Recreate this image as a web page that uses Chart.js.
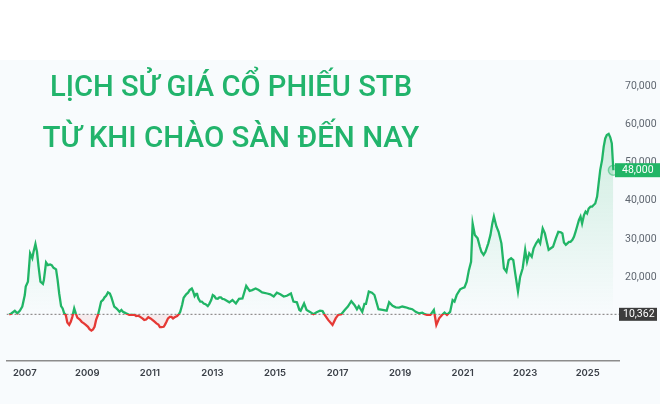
<!DOCTYPE html>
<html>
<head>
<meta charset="utf-8">
<script src="https://cdn.jsdelivr.net/npm/chart.js@4.4.0/dist/chart.umd.min.js"></script>
<style>
  html, body { margin: 0; padding: 0; }
  body { width: 660px; height: 404px; overflow: hidden;
         background: linear-gradient(#ffffff 0px, #ffffff 60px, #f8fbfd 60px); }
  #wrap { position: relative; width: 660px; height: 404px; }
  canvas { position: absolute; left: 0; top: 0; }
  .title { position: absolute; left: 0; width: 462px; text-align: center;
           font-family: Roboto, "Noto Sans", sans-serif; font-weight: 500; font-size: 29px;
           line-height: 51px; color: #22b46c; white-space: nowrap; }
  .title span { display: inline-block; transform-origin: center center; }
</style>
</head>
<body>
<div id="wrap">
  <canvas id="c" width="660" height="404"></canvas>
  <div class="title" style="top:61px"><span id="t1">LỊCH SỬ GIÁ CỔ PHIẾU STB</span></div>
  <div class="title" style="top:112px"><span id="t2">TỪ KHI CHÀO SÀN ĐẾN NAY</span></div>
</div>
<script>
// ---- data (decimal year, price in VND) ----
const years = [
 2006.50,2006.57,2006.68,2006.76,2006.84,2006.92,2007.00,2007.03,2007.10,2007.17,2007.24,2007.28,2007.34,2007.39,2007.44,2007.50,2007.58,2007.61,2007.68,2007.74,2007.81,2007.86,2007.92,2008.00,2008.05,2008.10,2008.16,2008.21,2008.26,2008.31,2008.36,2008.42,2008.47,2008.52,2008.58,2008.63,2008.68,2008.76,2008.82,2008.89,2008.95,2009.02,2009.07,2009.13,2009.18,2009.23,2009.28,2009.34,2009.39,2009.44,2009.50,2009.55,2009.60,2009.66,2009.72,2009.77,2009.81,2009.86,2009.93,2009.98,2010.03,2010.09,2010.14,2010.19,2010.24,2010.30,2010.34,2010.42,2010.51,2010.56,2010.63,2010.69,2010.76,2010.82,2010.88,2010.95,2011.02,2011.08,2011.14,2011.21,2011.27,2011.32,2011.37,2011.44,2011.48,2011.53,2011.58,2011.64,2011.69,2011.74,2011.79,2011.87,2011.93,2011.97,2012.03,2012.08,2012.16,2012.22,2012.27,2012.34,2012.38,2012.43,2012.48,2012.51,2012.55,2012.61,2012.66,2012.72,2012.78,2012.85,2012.90,2012.96,2013.01,2013.06,2013.11,2013.17,2013.22,2013.27,2013.32,2013.38,2013.54,2013.64,2013.75,2013.85,2013.96,2014.08,2014.19,2014.27,2014.38,2014.48,2014.59,2014.75,2014.85,2014.96,2015.06,2015.17,2015.28,2015.38,2015.51,2015.59,2015.70,2015.78,2015.82,2015.93,2016.01,2016.12,2016.23,2016.33,2016.44,2016.52,2016.59,2016.70,2016.84,2016.94,2017.02,2017.12,2017.23,2017.33,2017.44,2017.54,2017.62,2017.68,2017.79,2017.86,2017.91,2018.00,2018.10,2018.18,2018.31,2018.44,2018.57,2018.65,2018.76,2018.86,2018.97,2019.07,2019.18,2019.28,2019.39,2019.50,2019.60,2019.71,2019.79,2019.86,2019.97,2020.08,2020.16,2020.25,2020.34,2020.42,2020.50,2020.60,2020.68,2020.74,2020.81,2020.92,2020.97,2021.06,2021.13,2021.20,2021.27,2021.32,2021.39,2021.48,2021.55,2021.60,2021.67,2021.73,2021.82,2021.89,2021.95,2022.00,2022.08,2022.15,2022.24,2022.32,2022.40,2022.47,2022.55,2022.62,2022.68,2022.77,2022.84,2022.92,2023.00,2023.06,2023.13,2023.21,2023.27,2023.35,2023.42,2023.48,2023.56,2023.63,2023.69,2023.75,2023.82,2023.89,2023.98,2024.06,2024.14,2024.19,2024.24,2024.30,2024.35,2024.40,2024.45,2024.51,2024.56,2024.61,2024.66,2024.72,2024.77,2024.82,2024.88,2024.93,2024.98,2025.03,2025.09,2025.14,2025.19,2025.24,2025.30,2025.35,2025.40,2025.46,2025.51,2025.56,2025.61,2025.67,2025.72,2025.77,2025.80,2025.82
];
const prices = [
 10300,10600,11300,10600,11300,12400,15400,17600,18900,26300,25000,26700,28700,26700,22800,18900,18300,19300,23900,23200,23400,23200,22500,22100,19300,15800,12500,11900,10600,10200,8200,7600,8400,9700,11900,10600,9500,9000,8400,8000,7600,7100,6500,6100,6400,7100,8900,10200,11900,13700,14100,14800,15200,16100,15800,14800,13700,12400,11900,11500,11000,11500,11000,10800,10600,10400,10200,10200,10200,9900,10000,9700,9300,8900,9000,9600,9300,8900,8500,8000,7700,7000,7000,7100,7600,8400,9300,9700,9700,9300,9600,9900,10400,11000,12800,14700,15600,16000,16700,17100,16400,15100,15700,15700,14500,13700,13700,13200,13000,12500,13100,14100,15400,15100,14500,14400,14800,14800,14400,14300,13500,14100,13200,14400,14500,17800,16500,16700,17100,16700,16100,15800,15600,15000,16000,15600,15000,15200,15800,13700,13500,11500,11300,13200,11500,11000,10400,10900,11300,11200,10200,8900,7600,9300,10200,10400,11500,12400,13800,12800,11700,12500,11000,13100,13100,16300,16000,15400,11700,11500,11300,13500,12600,12200,12100,12400,12200,11900,11700,11000,10600,10800,10400,10200,10200,11500,7600,9300,10200,10800,10200,11000,14100,13700,15400,16900,17100,17400,18900,21900,24100,34100,31100,30200,28000,26700,25900,26700,28900,31100,34100,35900,33300,31900,28900,22400,21500,24500,25000,24500,21100,16300,20200,22400,27200,24100,26300,25400,27600,28900,29800,28900,32800,31500,29300,27200,27600,28000,30200,31900,31800,31500,29100,28500,28900,29300,29300,29800,30600,31900,33300,35000,35900,34100,36300,37200,36700,38000,38500,38500,38900,39300,41100,44600,48100,50700,54100,56300,57200,57500,56600,55000,50700,48000
];
const basePrice = 10362;            // listing reference price (dotted line)
const yearTicks = [2007,2009,2011,2013,2015,2017,2019,2021,2023,2025];
const priceTicks = [20000,30000,40000,50000,60000,70000];
const xMin = 2006.415, xMax = 2026.0;

const GREEN = '#21b566';
const RED = '#e53935';
const fmt = v => v.toLocaleString('en-US');
const lastIdx = prices.length - 1;

const points = years.map((t, i) => ({ x: t, y: prices[i] }));

const labelPlugin = {
  id: 'priceLabels',
  afterDraw(chart) {
    const ctx = chart.ctx, ys = chart.scales.y, area = chart.chartArea;
    ctx.save();
    ctx.font = '10.5px Roboto, "Noto Sans", sans-serif';
    ctx.textBaseline = 'middle';
    // base price label
    let py = ys.getPixelForValue(basePrice);
    ctx.fillStyle = '#3c3c3c';
    ctx.fillRect(area.right, py - 6.5, 38, 13);
    ctx.fillStyle = '#ffffff';
    ctx.fillText(fmt(basePrice), area.right + 4, py + 0.5);
    // last price label
    py = ys.getPixelForValue(prices[lastIdx]);
    ctx.fillStyle = GREEN;
    ctx.fillRect(area.right - 4, py - 7, 660 - area.right + 4, 14);
    ctx.fillStyle = '#ffffff';
    ctx.fillText(fmt(prices[lastIdx]), area.right + 3, py + 0.5);
    ctx.restore();
  }
};

const chart = new Chart(document.getElementById('c'), {
  type: 'line',
  data: {
    datasets: [
      {
        data: points,
        borderColor: GREEN,
        borderWidth: 2.3,
        tension: 0,
        fill: { target: { value: basePrice }, above: 'rgba(33,181,102,0.12)', below: 'rgba(229,57,53,0.08)' },
        pointRadius: ctx => ctx.dataIndex === lastIdx ? 5 : 0,
        pointBackgroundColor: 'rgba(33,181,102,0.2)',
        pointBorderColor: 'rgba(33,181,102,0.5)',
        pointBorderWidth: 1.5,
        order: 1
      },
      {
        data: [{ x: xMin, y: basePrice }, { x: xMax, y: basePrice }],
        borderColor: '#7a7a7a',
        borderWidth: 1,
        borderDash: [2, 2],
        pointRadius: 0,
        fill: false,
        order: 2
      }
    ]
  },
  options: {
    responsive: false,
    animation: false,
    layout: { padding: { top: 62, left: 2, right: 0, bottom: 0 } },
    plugins: { legend: { display: false }, tooltip: { enabled: false }, title: { display: false } },
    scales: {
      x: {
        type: 'linear', min: xMin, max: xMax,
        grid: { display: false, drawTicks: false },
        border: { display: true, color: '#8c8c8c', width: 1.5 },
        afterBuildTicks: s => { s.ticks = yearTicks.map(v => ({ value: v })); },
        afterFit: s => { s.height = 43; },
        ticks: { padding: 6, color: '#3b4048', maxRotation: 0, autoSkip: false,
                 font: { family: 'Inter', size: 9.5, weight: '600' },
                 callback: v => String(v) }
      },
      y: {
        position: 'right', min: -1830, max: 76260,
        grid: { display: false, drawTicks: false },
        border: { display: false },
        afterBuildTicks: s => { s.ticks = priceTicks.map(v => ({ value: v })); },
        afterFit: s => { s.width = 41; },
        ticks: { padding: 6, color: '#5f6670', font: { family: 'Roboto', size: 10.5 },
                 callback: v => fmt(v) }
      }
    }
  },
  plugins: [labelPlugin]
});

// colour the line / fill by position relative to base price
(function styleByBase() {
  const area = chart.chartArea, ys = chart.scales.y;
  const c = chart.ctx;
  const baseY = ys.getPixelForValue(basePrice);
  const f = (baseY - area.top) / (area.bottom - area.top);
  const line = c.createLinearGradient(0, area.top, 0, area.bottom);
  line.addColorStop(0, GREEN); line.addColorStop(f, GREEN);
  line.addColorStop(f, RED); line.addColorStop(1, RED);
  const fillG = c.createLinearGradient(0, area.top, 0, baseY);
  fillG.addColorStop(0, 'rgba(33,181,102,0.26)');
  fillG.addColorStop(1, 'rgba(33,181,102,0.0)');
  const ds = chart.data.datasets[0];
  ds.borderColor = line;
  ds.fill = { target: { value: basePrice }, above: fillG, below: 'rgba(229,57,53,0.08)' };
  chart.update('none');
})();

// fit title widths
[['t1', 362], ['t2', 377]].forEach(([id, w]) => {
  const el = document.getElementById(id);
  const r = w / el.getBoundingClientRect().width;
  el.style.transform = 'scaleX(' + r.toFixed(3) + ')';
});
</script>
</body>
</html>
